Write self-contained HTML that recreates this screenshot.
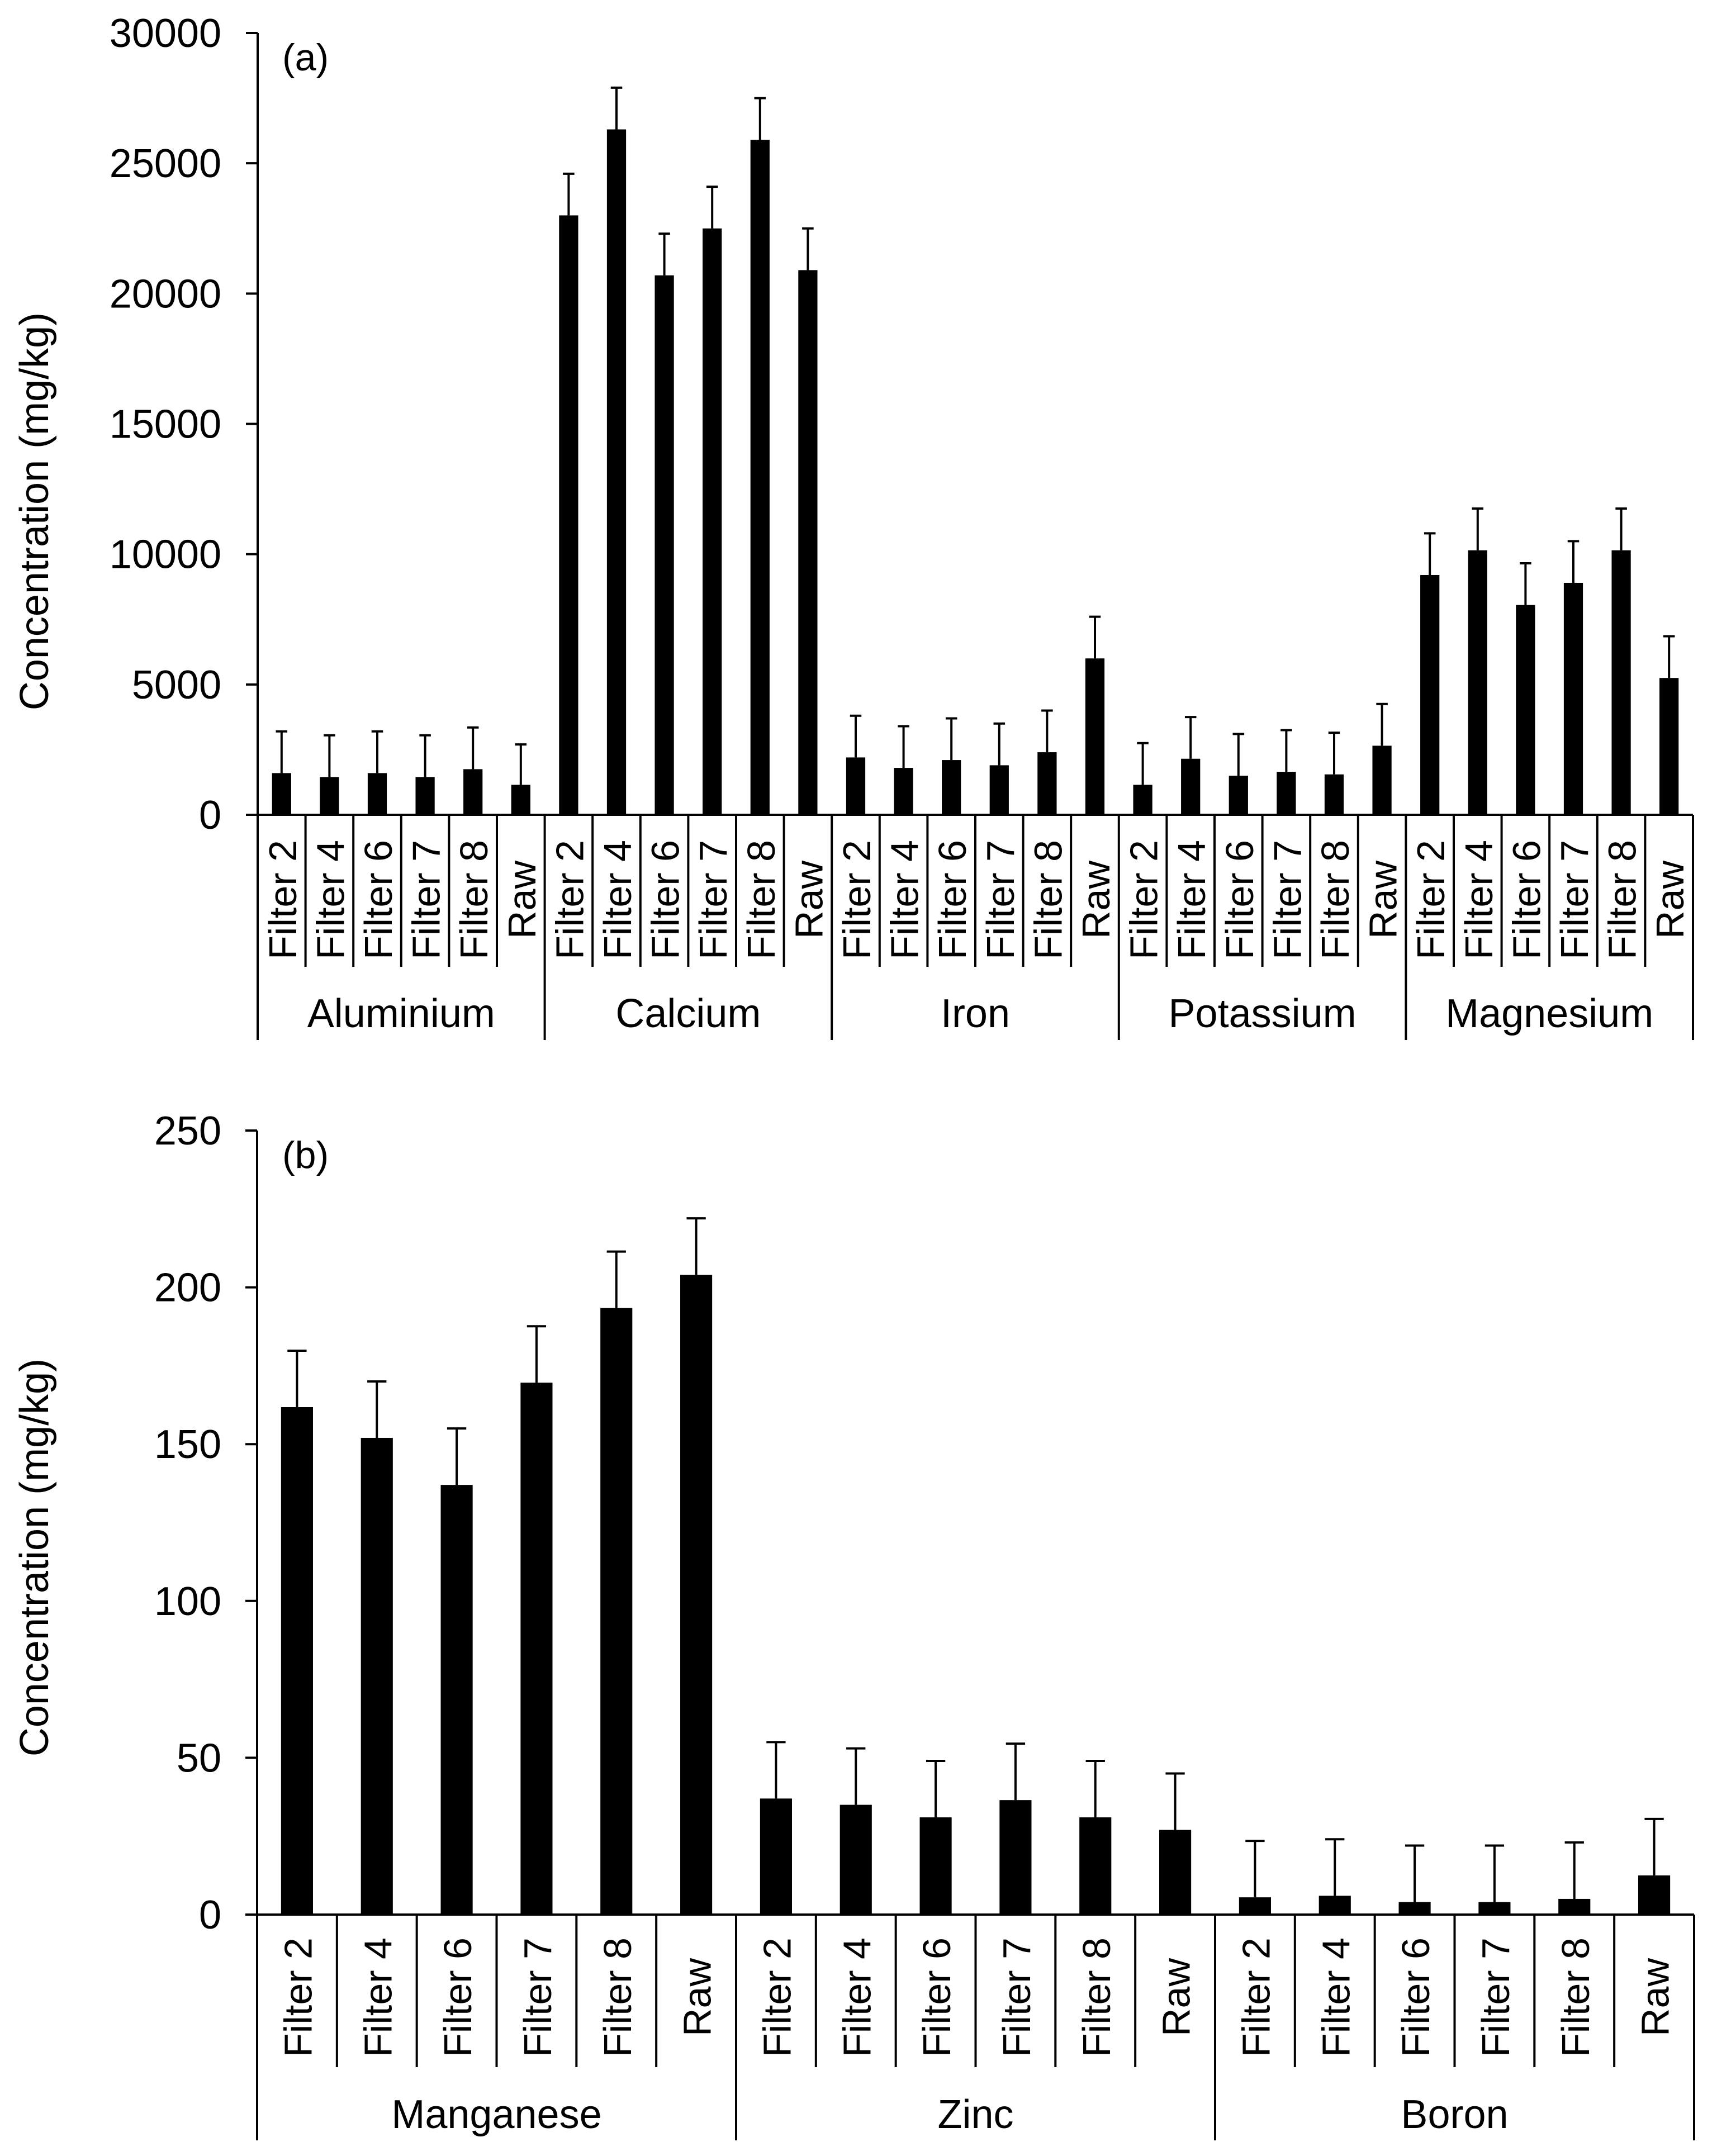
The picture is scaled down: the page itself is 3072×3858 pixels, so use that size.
<!DOCTYPE html>
<html><head><meta charset="utf-8"><style>
html,body{margin:0;padding:0;background:#fff;}
svg{display:block;}
text{font-family:"Liberation Sans",Arial,sans-serif;fill:#000;}
</style></head>
<body>
<svg id="chart" width="3072" height="3858" viewBox="0 0 3072 3858" xmlns="http://www.w3.org/2000/svg">
<g id="ga"></g>
<g id="gb"></g>
</svg>
<script>
const NS = "http://www.w3.org/2000/svg";
const subLabels = ["Filter 2","Filter 4","Filter 6","Filter 7","Filter 8","Raw"];
const groupsA = ["Aluminium","Calcium","Iron","Potassium","Magnesium"];
const valuesA = [
  1600,1450,1600,1450,1750,1150,
  23000,26300,20700,22500,25900,20900,
  2200,1800,2100,1900,2400,6000,
  1150,2150,1500,1650,1550,2650,
  9200,10150,8050,8900,10150,5250
];
const errorsA = [
  1600,1600,1600,1600,1600,1550,
  1600,1600,1600,1600,1600,1600,
  1600,1600,1600,1600,1600,1600,
  1600,1600,1600,1600,1600,1600,
  1600,1600,1600,1600,1600,1600
];
const ticksA = [0,5000,10000,15000,20000,25000,30000];
const groupsB = ["Manganese","Zinc","Boron"];
const valuesB = [
  161.8,152,137,169.6,193.4,204,
  37,35,31,36.5,31,27,
  5.5,6,4,4,5,12.5
];
const errorsB = [
  18,18,18,18,18,18,
  18,18,18,18,18,18,
  18,18,18,18,18,18
];
const ticksB = [0,50,100,150,200,250];

function el(tag, attrs, parent){
  const e = document.createElementNS(NS, tag);
  for (const k in attrs) e.setAttribute(k, attrs[k]);
  parent.appendChild(e);
  return e;
}

function drawPanel(g, cfg){
  const {x0, x1, yTop, yBot, max, groups, values, errors, ticks, panelLabel, tickEnd, groupEnd, subLabelEnd, groupBase, titleCenter, titleX, labelY} = cfg;
  const n = values.length;
  const slot = (x1 - x0) / n;
  const barW = slot * 0.4;
  const ys = v => yBot - (v / max) * (yBot - yTop);
  // ticks
  ticks.forEach(t => {
    const y = ys(t);
    const tl = el("line", {x1:x0-21, x2:x0, y1:y, y2:y, stroke:"#000","stroke-width":4}, g);
    
    
    const tx = el("text", {x:396, y:y+25, "text-anchor":"end","font-size":72}, g);
    tx.textContent = String(t);
    
    
  });
  // bars
  values.forEach((v, i) => {
    const cx = x0 + slot * (i + 0.5);
    const top = ys(v);
    const r = el("rect", {x:cx-barW/2, y:top, width:barW, height:yBot-top, fill:"#000"}, g);
    
    
    const et = ys(v + errors[i]);
    const eb = el("path", {d:`M${cx} ${top} V${et} M${cx-barW*0.3} ${et} H${cx+barW*0.3}`, stroke:"#000","stroke-width":4, fill:"none"}, g);
    
    
    const lab = el("text", {transform:`translate(${cx+26},${labelY}) rotate(-90)`, "text-anchor":"middle","font-size":70}, g);
    lab.textContent = subLabels[i % 6];
    
    
  });
  // separators
  for (let i = 0; i <= n; i++){
    const x = x0 + slot * i;
    const isGroup = i % 6 === 0;
    const s = el("line", {x1:x, x2:x, y1:yBot, y2:isGroup ? groupEnd : tickEnd, stroke:"#000","stroke-width":4}, g);
    
    
  }
  groups.forEach((name, j) => {
    const t = el("text", {x:x0 + slot*(6*j+3), y:groupBase, "text-anchor":"middle","font-size":72}, g);
    t.textContent = name;
    
    
  });
  // axes
  const ya = el("line", {x1:x0, x2:x0, y1:yTop, y2:yBot, stroke:"#000","stroke-width":4}, g);
  
  
  const xa = el("line", {x1:x0-21, x2:x1, y1:yBot, y2:yBot, stroke:"#000","stroke-width":4}, g);
  
  
  const pl = el("text", {x:505, y:yTop+67, "font-size":68}, g);
  pl.textContent = panelLabel;
  
  
  const yt = el("text", {transform:`translate(${titleX},${titleCenter}) rotate(-90)`, "text-anchor":"middle","font-size":72}, g);
  yt.textContent = "Concentration (mg/kg)";
  
  
}

drawPanel(document.getElementById("ga"), {
  x0:461, x1:3029, yTop:59, yBot:1458, max:30000,
  groups:groupsA, values:valuesA, errors:errorsA, ticks:ticksA, panelLabel:"(a)",
  tickEnd:1730, groupEnd:1861, groupBase:1838, titleCenter:915, titleX:86, labelY:1610
});
drawPanel(document.getElementById("gb"), {
  x0:460, x1:3031, yTop:2023, yBot:3426, max:250,
  groups:groupsB, values:valuesB, errors:errorsB, ticks:ticksB, panelLabel:"(b)",
  tickEnd:3699, groupEnd:3830, groupBase:3808, titleCenter:2787, titleX:86, labelY:3574
});
</script>
</body></html>
